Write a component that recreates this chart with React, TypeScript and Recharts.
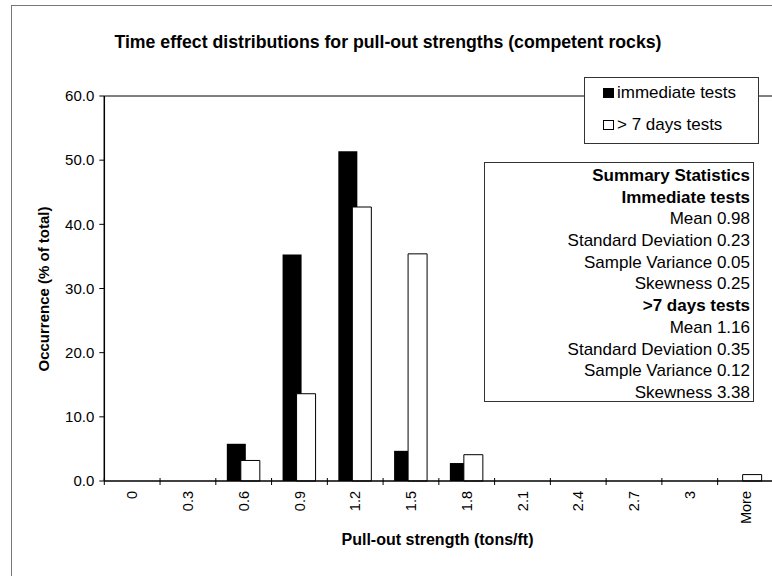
import React from 'react';
import { BarChart, Bar, XAxis, YAxis, ReferenceLine, Legend } from 'recharts';

const categories = ['0', '0.3', '0.6', '0.9', '1.2', '1.5', '1.8', '2.1', '2.4', '2.7', '3', 'More'];
const immediateTests = [0, 0, 5.8, 35.3, 51.4, 4.7, 2.8, 0, 0, 0, 0, 0];
const sevenDayTests = [0, 0, 3.2, 13.6, 42.7, 35.4, 4.1, 0, 0, 0, 0, 1.0];
const yTicks = [0, 10, 20, 30, 40, 50, 60];
const seriesNames = ['immediate tests', '> 7 days tests'];
const summaryLines = [
  { text: 'Summary Statistics', bold: true },
  { text: 'Immediate tests', bold: true },
  { text: 'Mean 0.98', bold: false },
  { text: 'Standard Deviation 0.23', bold: false },
  { text: 'Sample Variance 0.05', bold: false },
  { text: 'Skewness 0.25', bold: false },
  { text: '>7 days tests', bold: true },
  { text: 'Mean 1.16', bold: false },
  { text: 'Standard Deviation 0.35', bold: false },
  { text: 'Sample Variance 0.12', bold: false },
  { text: 'Skewness 3.38', bold: false },
];

const data = categories.map((c, i) => ({
  cat: c,
  immediate: immediateTests[i],
  seven: sevenDayTests[i],
}));

const FONT = '"Liberation Sans", Arial, sans-serif';
const CHART_W = 800;
const CHART_H = 600;
const MARGIN = { top: 96, right: 26.6, left: 0, bottom: 59 };
const Y_W = 104.3;
const X_H = 60;
const PLOT_W = CHART_W - MARGIN.right - MARGIN.left - Y_W;
const BAND = PLOT_W / categories.length;

const XTick = (props: any) => {
  const { x, y, payload } = props;
  return (
    <g>
      <line x1={x - BAND / 2} x2={x - BAND / 2} y1={y - 3} y2={y + 4} stroke="#000" strokeWidth={1} />
      <text
        x={x}
        y={y + 10}
        transform={`rotate(-90, ${x}, ${y + 10})`}
        textAnchor="end"
        dy="0.36em"
        fontSize={14.5}
        fontFamily={FONT}
        fill="#000"
      >
        {payload.value}
      </text>
    </g>
  );
};

const LegendBox = () => (
  <div
    style={{
      width: 173,
      height: 65,
      border: '1px solid #333',
      background: '#fff',
      fontFamily: FONT,
      fontSize: 17,
      color: '#000',
      position: 'relative',
    }}
  >
    {seriesNames.map((n, i) => (
      <div key={n} style={{ position: 'absolute', left: 18, top: i === 0 ? 4 : 36, height: 22, display: 'flex', alignItems: 'center', whiteSpace: 'nowrap' }}>
        <span
          style={{
            display: 'inline-block',
            width: 11,
            height: 10,
            background: i === 0 ? '#000' : '#fff',
            border: '1px solid #000',
            boxSizing: 'border-box',
            marginRight: 3,
          }}
        />
        <span>{n}</span>
      </div>
    ))}
  </div>
);

export default function App() {
  return (
    <div style={{ position: 'absolute', left: 0, top: 0, width: 772, height: 576, overflow: 'hidden', background: '#fff' }}>
      <div
        style={{
          position: 'absolute',
          left: 10.5,
          top: 4.5,
          width: 900,
          height: 700,
          borderLeft: '1.5px solid #777',
          borderTop: '1.5px solid #777',
        }}
      />
      <div style={{ position: 'absolute', left: 0, top: 0 }}>
        <BarChart width={CHART_W} height={CHART_H} data={data} margin={MARGIN} barSize={19} barGap={-5}>
          <ReferenceLine y={60} stroke="#000" strokeWidth={1} />
          <XAxis
            dataKey="cat"
            interval={0}
            height={X_H}
            tickLine={false}
            tickSize={0}
            tickMargin={0}
            axisLine={{ stroke: '#000', strokeWidth: 1.5 }}
            tick={<XTick />}
          />
          <YAxis
            width={Y_W}
            domain={[0, 60]}
            ticks={yTicks}
            tickFormatter={(v: number) => v.toFixed(1)}
            axisLine={{ stroke: '#000', strokeWidth: 1.5 }}
            tickLine={{ stroke: '#000' }}
            tickSize={5}
            tickMargin={5}
            tick={{ fill: '#000', fontSize: 15, fontFamily: FONT }}
          />
          <Legend
            layout="horizontal"
            verticalAlign="middle"
            align="center"
            content={<LegendBox />}
            wrapperStyle={{ position: 'absolute', left: 584, top: 77, width: 175, height: 67 }}
          />
          <Bar dataKey="immediate" name={seriesNames[0]} fill="#000" isAnimationActive={false} />
          <Bar dataKey="seven" name={seriesNames[1]} fill="#fff" stroke="#000" strokeWidth={1} isAnimationActive={false} />
        </BarChart>
      </div>
      <svg width={772} height={576} style={{ position: 'absolute', left: 0, top: 0, pointerEvents: 'none' }}>
        <text x={388} y={48} textAnchor="middle" fontFamily={FONT} fontWeight="bold" fontSize={17.7} fill="#000">
          Time effect distributions for pull-out strengths (competent rocks)
        </text>
        <text x={437.5} y={545} textAnchor="middle" fontFamily={FONT} fontWeight="bold" fontSize={16} fill="#000">
          Pull-out strength (tons/ft)
        </text>
        <text
          x={49}
          y={289}
          transform="rotate(-90, 49, 289)"
          textAnchor="middle"
          fontFamily={FONT}
          fontWeight="bold"
          fontSize={15}
          fill="#000"
        >
          Occurrence (% of total)
        </text>
      </svg>
      <div
        style={{
          position: 'absolute',
          left: 484,
          top: 162,
          width: 268,
          height: 238,
          border: '1px solid #333',
          background: '#fff',
          fontFamily: FONT,
          fontSize: 17,
          color: '#000',
          textAlign: 'right',
          overflow: 'hidden',
          boxSizing: 'content-box',
        }}
      >
        <div style={{ paddingTop: 2, paddingRight: 3 }}>
          {summaryLines.map((l, i) => (
            <div key={i} style={{ fontWeight: l.bold ? 'bold' : 'normal', lineHeight: '21.7px', height: 21.7, whiteSpace: 'nowrap' }}>
              {l.text}
            </div>
          ))}
        </div>
      </div>
    </div>
  );
}
